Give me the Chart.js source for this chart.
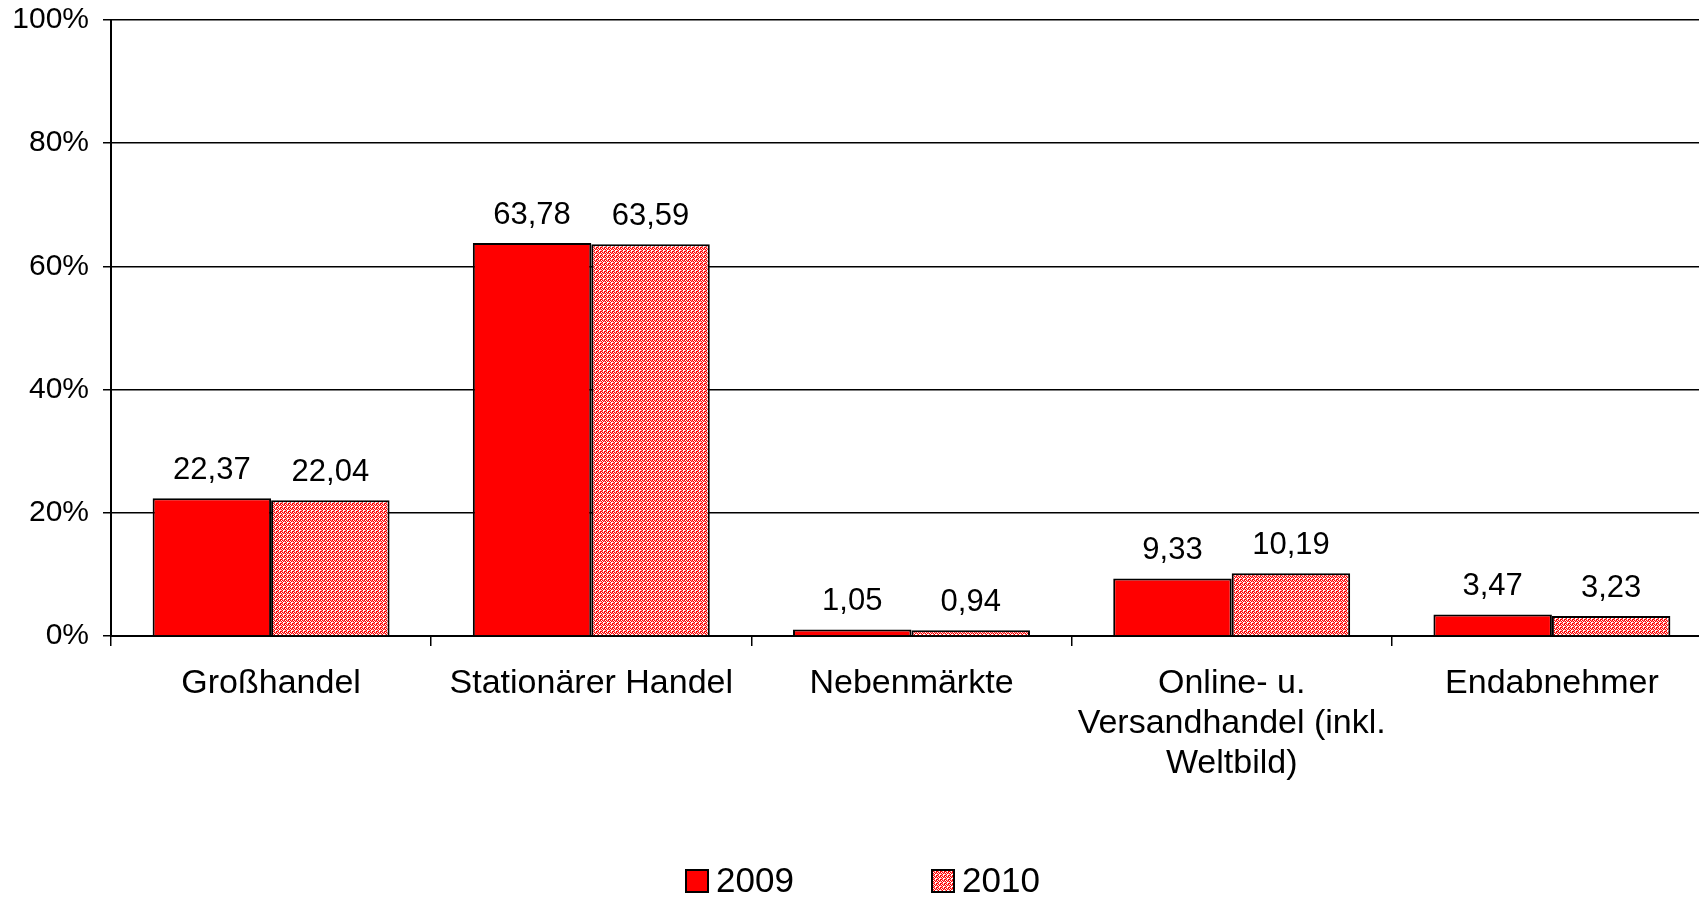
<!DOCTYPE html>
<html>
<head>
<meta charset="utf-8">
<script src="https://cdn.jsdelivr.net/npm/chart.js@4/dist/chart.umd.min.js"></script>
<style>
    html, body { margin: 0; padding: 0; background: #fff; overflow: hidden; }
    #wrap { position: relative; width: 1712px; height: 897px; }
</style>
</head>
<body>
<div id="wrap"><canvas id="vertriebChart"></canvas></div>
<script>
const categories = [
    'Großhandel',
    'Stationärer Handel',
    'Nebenmärkte',
    ['Online- u.', 'Versandhandel (inkl.', 'Weltbild)'],
    'Endabnehmer'
];
const values2009 = [22.37, 63.78, 1.05, 9.33, 3.47];
const values2010 = [22.04, 63.59, 0.94, 10.19, 3.23];
const seriesNames = ['2009', '2010'];
const yTicks = [0, 20, 40, 60, 80, 100];

const FONT = 'Arial, "Liberation Sans", sans-serif';

// red with white/pink dither, like the old office fill
function makePattern() {
    const map = [
        'RWRP',
        'PRWR',
        'WPRW',
        'RRPW'
    ];
    const cols = { R: '#ff0000', W: '#ffffff', P: '#ff8a8a' };
    const c = document.createElement('canvas');
    c.width = 4; c.height = 4;
    const g = c.getContext('2d');
    map.forEach((row, y) => {
        [...row].forEach((ch, x) => {
            g.fillStyle = cols[ch];
            g.fillRect(x, y, 1, 1);
        });
    });
    return g.createPattern(c, 'repeat');
}

const barLabels = {
    id: 'barLabels',
    afterDatasetsDraw(chart) {
        const ctx = chart.ctx;
        ctx.save();
        ctx.font = '31px ' + FONT;
        ctx.fillStyle = '#000';
        ctx.textAlign = 'center';
        ctx.textBaseline = 'middle';
        chart.data.datasets.forEach((ds, i) => {
            chart.getDatasetMeta(i).data.forEach((bar, j) => {
                const txt = ds.data[j].toFixed(2).replace('.', ',');
                ctx.fillText(txt, bar.x, bar.y - 28);
            });
        });
        ctx.restore();
    }
};

// legend drawn by hand: the gap between the two entries is wide
const bottomLegend = {
    id: 'bottomLegend',
    afterDraw(chart) {
        const ctx = chart.ctx;
        const y = 881;
        const starts = [686, 932];
        ctx.save();
        ctx.font = '35px ' + FONT;
        ctx.textBaseline = 'middle';
        chart.data.datasets.forEach((ds, i) => {
            const x = starts[i];
            ctx.fillStyle = ds.backgroundColor;
            ctx.fillRect(x, y - 11, 22, 22);
            ctx.strokeStyle = '#000';
            ctx.lineWidth = 2;
            ctx.strokeRect(x, y - 11, 22, 22);
            ctx.fillStyle = '#000';
            ctx.fillText(ds.label, x + 30, y + 1);
        });
        ctx.restore();
    }
};

document.addEventListener('DOMContentLoaded', function () {
    const ctx = document.getElementById('vertriebChart');
    new Chart(ctx, {
        type: 'bar',
        data: {
            labels: categories,
            datasets: [{
                label: seriesNames[0],
                data: values2009,
                backgroundColor: '#ff0000',
                borderColor: '#000',
                borderWidth: 2,
                borderSkipped: 'bottom'
            }, {
                label: seriesNames[1],
                data: values2010,
                backgroundColor: makePattern(),
                borderColor: '#000',
                borderWidth: 2,
                borderSkipped: 'bottom'
            }]
        },
        options: {
            responsive: true,
            maintainAspectRatio: false,
            animation: false,
            layout: { padding: { top: 20, right: 0, bottom: 0, left: 0 } },
            datasets: { bar: { barPercentage: 1, categoryPercentage: 0.74 } },
            plugins: {
                legend: { display: false },
                tooltip: { enabled: false }
            },
            scales: {
                x: {
                    grid: {
                        offset: true,
                        drawOnChartArea: false,
                        color: '#000',
                        lineWidth: 1.5,
                        tickLength: 10
                    },
                    border: { display: true, color: '#000', width: 2 },
                    ticks: {
                        color: '#000',
                        padding: 18,
                        maxRotation: 0,
                        autoSkip: false,
                        font: { family: FONT, size: 34, lineHeight: 1.17 }
                    },
                    afterFit(scale) { scale.height = 261; }
                },
                y: {
                    min: 0,
                    max: 100,
                    afterBuildTicks(scale) {
                        scale.ticks = yTicks.map(v => ({ value: v }));
                    },
                    grid: {
                        color: '#000',
                        lineWidth: 1.5,
                        tickLength: 8
                    },
                    border: { display: true, color: '#000', width: 2 },
                    ticks: {
                        color: '#000',
                        padding: 14,
                        font: { family: FONT, size: 30 },
                        callback: v => v + '%'
                    },
                    afterFit(scale) {
                        scale.width = 111;
                        scale.paddingTop = 0;
                        scale.paddingBottom = 0;
                    }
                }
            }
        },
        plugins: [barLabels, bottomLegend]
    });
});
</script>
</body>
</html>
